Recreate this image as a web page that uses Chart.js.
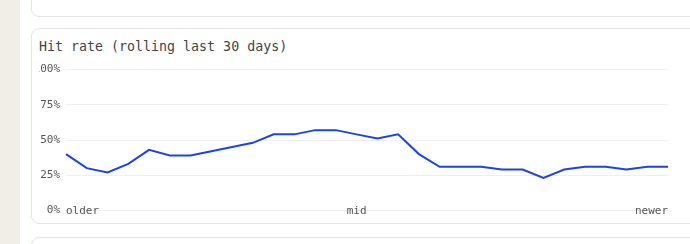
<!DOCTYPE html>
<html>
<head>
<meta charset="utf-8">
<script src="https://cdn.jsdelivr.net/npm/chart.js@4.4.1/dist/chart.umd.min.js"></script>
<style>
  html, body { margin: 0; padding: 0; width: 690px; height: 244px; overflow: hidden; background: #fff; }
  .side { position: absolute; left: 0; top: 0; width: 20px; height: 244px; background: #f1eee6; }
  .card { position: absolute; left: 31px; width: 720px; background: #fff; border: 1px solid #e4e4e7; border-radius: 8px; box-sizing: border-box; }
  .title { position: absolute; left: 7px; top: 10px; font: 13.3px "DejaVu Sans Mono", monospace; color: #444; white-space: nowrap; }
  .chart-box { position: absolute; left: 7px; top: 28px; width: 629px; height: 166px; }
</style>
</head>
<body>
<div class="side"></div>
<div class="card" style="top:-20px;height:37px"></div>
<div class="card" style="top:28px;height:196px">
  <div class="title">Hit rate (rolling last 30 days)</div>
  <div class="chart-box"><canvas id="hit-chart"></canvas></div>
</div>
<div class="card" style="top:237px;height:40px"></div>
<script>
//Etiquetas del eje x: solo extremos y centro
const days = ['older', '', '', '', '', '', '', '', '', '', '', '', '', '', 'mid',
  '', '', '', '', '', '', '', '', '', '', '', '', '', '', 'newer'];
//Porcentaje de aciertos por dia
const hitRate = [40, 30, 27, 33, 43, 39, 39, 42, 45, 48, 54, 54, 57, 57, 54,
  51, 54, 40, 31, 31, 31, 29, 29, 23, 29, 31, 31, 29, 31, 31];
const yTicks = [0, 25, 50, 75, 100];

Chart.defaults.font.family = '"DejaVu Sans Mono", monospace';
Chart.defaults.font.size = 11;
Chart.defaults.color = '#555';

let ctx = document.getElementById('hit-chart').getContext('2d');
new Chart(ctx, {
  type: 'line',
  data: {
    labels: days,
    datasets: [{
      data: hitRate,
      borderColor: '#1d44e0',
      borderWidth: 2,
      pointRadius: 0,
      tension: 0,
      fill: false
    }]
  },
  options: {
    responsive: true,
    maintainAspectRatio: false,
    animation: false,
    plugins: { legend: { display: false }, tooltip: { enabled: false } },
    layout: { padding: 0 },
    scales: {
      x: {
        //etiquetas sobre la linea del 0%
        afterFit: s => { s.height = 0; },
        grid: { display: false, drawTicks: false },
        border: { display: false },
        ticks: { autoSkip: false, maxRotation: 0, align: 'inner', mirror: true, padding: -7 }
      },
      y: {
        min: 0,
        max: 100,
        afterFit: s => { s.width = 27; },
        afterBuildTicks: s => { s.ticks = yTicks.map(v => ({ value: v })); },
        grid: { color: '#efeff1', drawTicks: false },
        border: { display: false },
        ticks: { padding: 6, callback: v => v + '%' }
      }
    }
  }
});
</script>
</body>
</html>
